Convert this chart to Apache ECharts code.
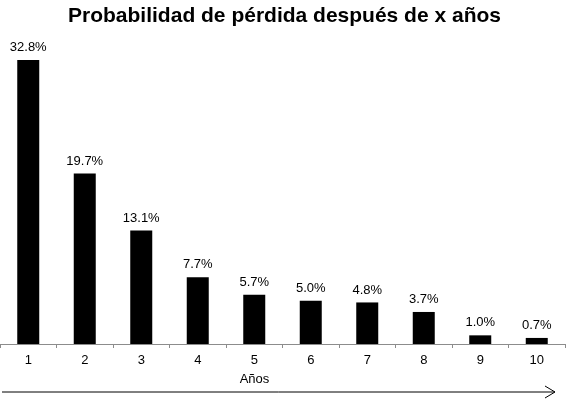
<!DOCTYPE html>
<html>
<head>
<meta charset="utf-8">
<script src="https://cdn.jsdelivr.net/npm/echarts@6/dist/echarts.min.js"></script>
<style>
  html, body { margin: 0; padding: 0; background: #fff; }
  #chart { width: 569px; height: 399px; }
</style>
</head>
<body>
<div id="chart"></div>
<script>
const years = ['1', '2', '3', '4', '5', '6', '7', '8', '9', '10']
const lossProb = [32.8, 19.7, 13.1, 7.7, 5.7, 5.0, 4.8, 3.7, 1.0, 0.7]

const chart = echarts.init(document.getElementById('chart'))

const option = {
  animation: false,
  backgroundColor: '#fff',
  textStyle: { fontFamily: 'Liberation Sans, Arial, sans-serif' },
  title: {
    text: 'Probabilidad de pérdida después de x años',
    left: 'center',
    top: 1,
    textStyle: { fontSize: 21, fontWeight: 'bold', color: '#000' }
  },
  grid: { left: -3, right: 4, top: 41, bottom: 55, containLabel: false },
  xAxis: {
    type: 'category',
    data: years,
    name: 'Años',
    nameLocation: 'middle',
    nameGap: 29,
    nameTextStyle: { fontSize: 13, color: '#000', padding: [0, 56, 0, 0] },
    axisLine: { lineStyle: { color: '#8c8c8c', width: 1 } },
    axisTick: { show: true, inside: false, length: 4, lineStyle: { color: '#8c8c8c' } },
    axisLabel: { fontSize: 13, color: '#000', margin: 10 }
  },
  yAxis: {
    type: 'value',
    min: 0,
    max: 35,
    show: false,
    splitLine: { show: false }
  },
  series: [
    {
      type: 'bar',
      data: lossProb,
      barWidth: 22,
      itemStyle: { color: '#000' },
      label: {
        show: true,
        position: 'top',
        distance: 6,
        fontSize: 13,
        color: '#000',
        formatter: p => p.value.toFixed(1) + '%'
      }
    }
  ],
  graphic: [
    {
      type: 'line',
      shape: { x1: 2, y1: 392, x2: 555, y2: 392 },
      style: { stroke: '#000', lineWidth: 1 }
    },
    {
      type: 'polyline',
      shape: { points: [[545, 386], [555, 392], [545, 398]] },
      style: { stroke: '#000', lineWidth: 1, fill: null }
    }
  ]
}

chart.setOption(option)
</script>
</body>
</html>
